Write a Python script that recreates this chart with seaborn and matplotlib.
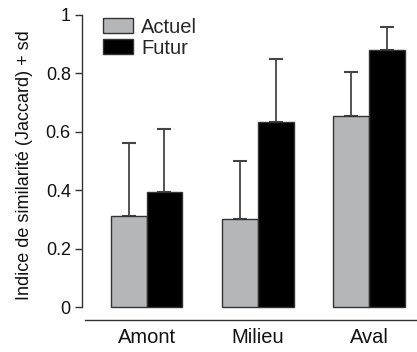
import numpy as np
import pandas as pd
import matplotlib
matplotlib.use("Agg")
import matplotlib.pyplot as plt
import seaborn as sns

# data
sites = ["Amont", "Milieu", "Aval"]
periods = ["Actuel", "Futur"]
actuel_mean = [0.31, 0.30, 0.655]
actuel_sd = [0.25, 0.20, 0.15]
futur_mean = [0.395, 0.635, 0.88]
futur_sd = [0.215, 0.215, 0.08]

df = pd.DataFrame({
    "site": sites * 2,
    "period": ["Actuel"] * 3 + ["Futur"] * 3,
    "value": actuel_mean + futur_mean,
})
sds = {"Actuel": actuel_sd, "Futur": futur_sd}

sns.set_style("ticks")
plt.rcParams["font.family"] = ["Liberation Sans", "DejaVu Sans"]

fig = plt.figure(figsize=(4.17, 3.52), dpi=100)
ax = fig.add_axes([0.1966, 0.0909, 0.8034, 0.8807])

sns.barplot(
    data=df, x="site", y="value", hue="period", order=sites,
    hue_order=periods, palette=["#b4b6b9", "#000000"],
    width=0.645, edgecolor="#333333", linewidth=1.0,
    errorbar=None, ax=ax, zorder=2,
)

# upper-only sd error bars
for container, period in zip(ax.containers, periods):
    for patch, sd in zip(container.patches, sds[period]):
        xc = patch.get_x() + patch.get_width() / 2
        ax.errorbar(xc, patch.get_height(), yerr=[[0], [sd]],
                    fmt="none", ecolor="#444444", elinewidth=1.3,
                    capsize=5, capthick=1.5, zorder=1)

ax.set_xlim(-0.58, 2.43)
ax.set_ylim(-0.0445, 1.017)
ax.set_yticks([0, 0.2, 0.4, 0.6, 0.8, 1])
ax.set_yticklabels(["0", "0.2", "0.4", "0.6", "0.8", "1"])
ax.spines["top"].set_visible(False)
ax.spines["right"].set_visible(False)
ax.spines["left"].set_bounds(0, 1)
ax.spines["bottom"].set_bounds(-0.55, 2.43)
for s in ["left", "bottom"]:
    ax.spines[s].set_color("#333333")
    ax.spines[s].set_linewidth(1.0)
ax.tick_params(axis="y", length=5, width=1, color="#333333", pad=3,
               labelsize=13, labelcolor="#111111")
ax.tick_params(axis="x", length=0, pad=6, labelsize=14.5, labelcolor="#111111")
ax.set_xlabel("")
ax.set_ylabel("Indice de similarité (Jaccard) + sd", fontsize=13,
              color="#111111", labelpad=9)

ax.legend(loc="upper left", bbox_to_anchor=(0.062, 0.975), frameon=False,
          fontsize=14.5, handlelength=1.5, handleheight=0.8,
          handletextpad=0.4, labelspacing=0.1, borderaxespad=0,
          borderpad=0)

fig.savefig("out.png", dpi=100)
